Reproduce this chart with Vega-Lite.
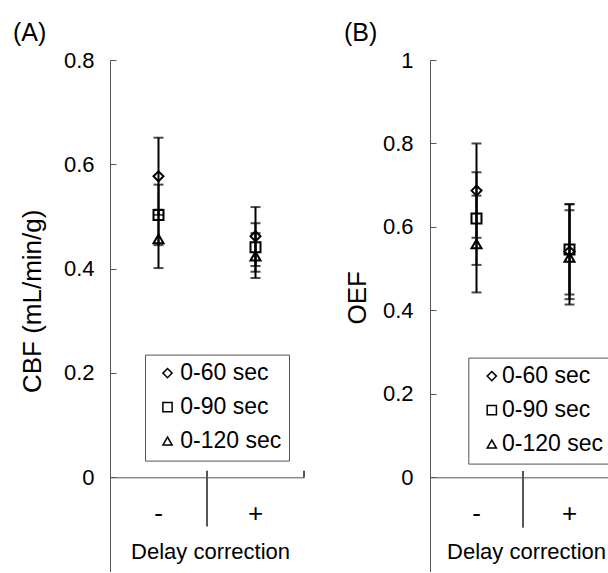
{
  "$schema": "https://vega.github.io/schema/vega-lite/v6.json",
  "padding": {"left": 13, "top": 20, "right": 0, "bottom": 0},
  "config": {
    "font": "Liberation Sans",
    "view": {"stroke": null},
    "axis": {"grid": false, "domainColor": "#555555", "tickColor": "#555555", "labelColor": "#000000", "titleColor": "#000000", "labelFontSize": 22, "titleFontWeight": "normal"},
    "legend": {"labelColor": "#000000", "labelFontSize": 23, "strokeColor": "#555555", "padding": 7, "rowPadding": 10, "symbolSize": 85, "symbolStrokeWidth": 1.5, "symbolStrokeColor": "#000000"},
    "title": {"fontSize": 25, "fontWeight": "normal", "anchor": "start", "frame": "group", "color": "#000000", "baseline": "alphabetic"}
  },
  "datasets": {
    "a": [
      {"corr": "-", "series": "0-60 sec", "mean": 0.577, "lo": 0.503, "hi": 0.651},
      {"corr": "-", "series": "0-90 sec", "mean": 0.503, "lo": 0.445, "hi": 0.561},
      {"corr": "-", "series": "0-120 sec", "mean": 0.457, "lo": 0.401, "hi": 0.513},
      {"corr": "+", "series": "0-60 sec", "mean": 0.462, "lo": 0.405, "hi": 0.518},
      {"corr": "+", "series": "0-90 sec", "mean": 0.441, "lo": 0.394, "hi": 0.487},
      {"corr": "+", "series": "0-120 sec", "mean": 0.424, "lo": 0.382, "hi": 0.468}
    ],
    "b": [
      {"corr": "-", "series": "0-60 sec", "mean": 0.687, "lo": 0.574, "hi": 0.800},
      {"corr": "-", "series": "0-90 sec", "mean": 0.620, "lo": 0.509, "hi": 0.731},
      {"corr": "-", "series": "0-120 sec", "mean": 0.559, "lo": 0.443, "hi": 0.675},
      {"corr": "+", "series": "0-60 sec", "mean": 0.541, "lo": 0.427, "hi": 0.655},
      {"corr": "+", "series": "0-90 sec", "mean": 0.546, "lo": 0.438, "hi": 0.654},
      {"corr": "+", "series": "0-120 sec", "mean": 0.527, "lo": 0.414, "hi": 0.640}
    ]
  },
  "spacing": 39,
  "resolve": {"scale": {"shape": "independent", "x": "independent", "y": "independent"}, "legend": {"shape": "independent"}},
  "hconcat": [
    {
      "title": {"text": "(A)", "dx": -97, "offset": 3.4},
      "width": 194,
      "height": 512,
      "data": {"name": "a"},
      "encoding": {
        "x": {"field": "corr", "type": "nominal", "sort": ["-", "+"],
          "scale": {"domain": ["-", "+"], "paddingInner": 0, "paddingOuter": 0},
          "axis": {"orient": "bottom", "offset": -94.7, "labelAngle": 0, "labelBaseline": "alphabetic", "labelPadding": 44, "labelFontSize": 26, "ticks": false,
            "title": "Delay correction", "titleFontSize": 22, "titleX": 100, "titleY": 81.3, "titleBaseline": "alphabetic", "titleAlign": "center"}}
      },
      "layer": [
        {"mark": {"type": "rule", "strokeWidth": 2, "color": "#000000"},
          "encoding": {
            "y": {"field": "lo", "type": "quantitative", "scale": {"domain": [-0.1818, 0.8], "nice": false, "zero": false},
              "axis": {"values": [0, 0.2, 0.4, 0.6, 0.8], "format": ".1~f", "tickSize": -6, "labelPadding": 22, "title": "CBF (mL/min/g)", "titleFontSize": 26,
                "titleX": -78, "titleY": 240.8, "titleAlign": "center", "titleBaseline": "middle"}},
            "y2": {"field": "hi"}}},
        {"mark": {"type": "tick", "size": 10, "thickness": 2, "color": "#000000", "orient": "horizontal"},
          "encoding": {"y": {"field": "lo", "type": "quantitative"}}},
        {"mark": {"type": "tick", "size": 10, "thickness": 2, "color": "#000000", "orient": "horizontal"},
          "encoding": {"y": {"field": "hi", "type": "quantitative"}}},
        {"mark": {"type": "rule", "color": "#555555", "strokeWidth": 1},
          "encoding": {"x": {"datum": "+", "type": "nominal", "bandPosition": 0}, "y": {"datum": 0.0121, "type": "quantitative"}, "y2": {"datum": -0.094}}},
        {"mark": {"type": "rule", "color": "#555555", "strokeWidth": 1},
          "encoding": {"x": {"datum": "+", "type": "nominal", "bandPosition": 1}, "y": {"datum": 0.0121, "type": "quantitative"}, "y2": {"datum": 0}}},
        {"mark": {"type": "point", "filled": false, "strokeWidth": 2, "color": "#000000", "size": 100, "opacity": 1},
          "encoding": {
            "y": {"field": "mean", "type": "quantitative"},
            "shape": {"field": "series", "type": "nominal",
              "scale": {"domain": ["0-60 sec", "0-90 sec", "0-120 sec"], "range": ["diamond", "square", "triangle-up"]},
              "legend": {"orient": "none", "legendX": 35, "legendY": 294.6, "title": null, "symbolOffset": 4, "labelOffset": 1.3}}}}
      ]
    },
    {
      "title": {"text": "(B)", "dx": -86, "offset": 3.4},
      "width": 186,
      "height": 512,
      "data": {"name": "b"},
      "encoding": {
        "x": {"field": "corr", "type": "nominal", "sort": ["-", "+"],
          "scale": {"domain": ["-", "+"], "paddingInner": 0, "paddingOuter": 0},
          "axis": {"orient": "bottom", "offset": -94.7, "labelAngle": 0, "labelBaseline": "alphabetic", "labelPadding": 44, "labelFontSize": 26, "ticks": false,
            "title": "Delay correction", "titleFontSize": 22, "titleX": 96, "titleY": 81.3, "titleBaseline": "alphabetic", "titleAlign": "center"}}
      },
      "layer": [
        {"mark": {"type": "rule", "strokeWidth": 2, "color": "#000000"},
          "encoding": {
            "y": {"field": "lo", "type": "quantitative", "scale": {"domain": [-0.2269, 1], "nice": false, "zero": false},
              "axis": {"values": [0, 0.2, 0.4, 0.6, 0.8, 1], "format": ".1~f", "tickSize": -6, "labelPadding": 23, "title": "OEF", "titleFontSize": 26,
                "titleX": -72.3, "titleY": 237.3, "titleAlign": "center", "titleBaseline": "middle"}},
            "y2": {"field": "hi"}}},
        {"mark": {"type": "tick", "size": 10, "thickness": 2, "color": "#000000", "orient": "horizontal"},
          "encoding": {"y": {"field": "lo", "type": "quantitative"}}},
        {"mark": {"type": "tick", "size": 10, "thickness": 2, "color": "#000000", "orient": "horizontal"},
          "encoding": {"y": {"field": "hi", "type": "quantitative"}}},
        {"mark": {"type": "rule", "color": "#555555", "strokeWidth": 1},
          "encoding": {"x": {"datum": "+", "type": "nominal", "bandPosition": 0}, "y": {"datum": 0.0151, "type": "quantitative"}, "y2": {"datum": -0.1198}}},
        {"mark": {"type": "point", "filled": false, "strokeWidth": 2, "color": "#000000", "size": 100, "opacity": 1},
          "encoding": {
            "y": {"field": "mean", "type": "quantitative"},
            "shape": {"field": "series", "type": "nominal",
              "scale": {"domain": ["0-60 sec", "0-90 sec", "0-120 sec"], "range": ["diamond", "square", "triangle-up"]},
              "legend": {"orient": "none", "legendX": 38.3, "legendY": 297.6, "title": null, "symbolOffset": 5, "labelOffset": -1.3}}}}
      ]
    }
  ]
}
